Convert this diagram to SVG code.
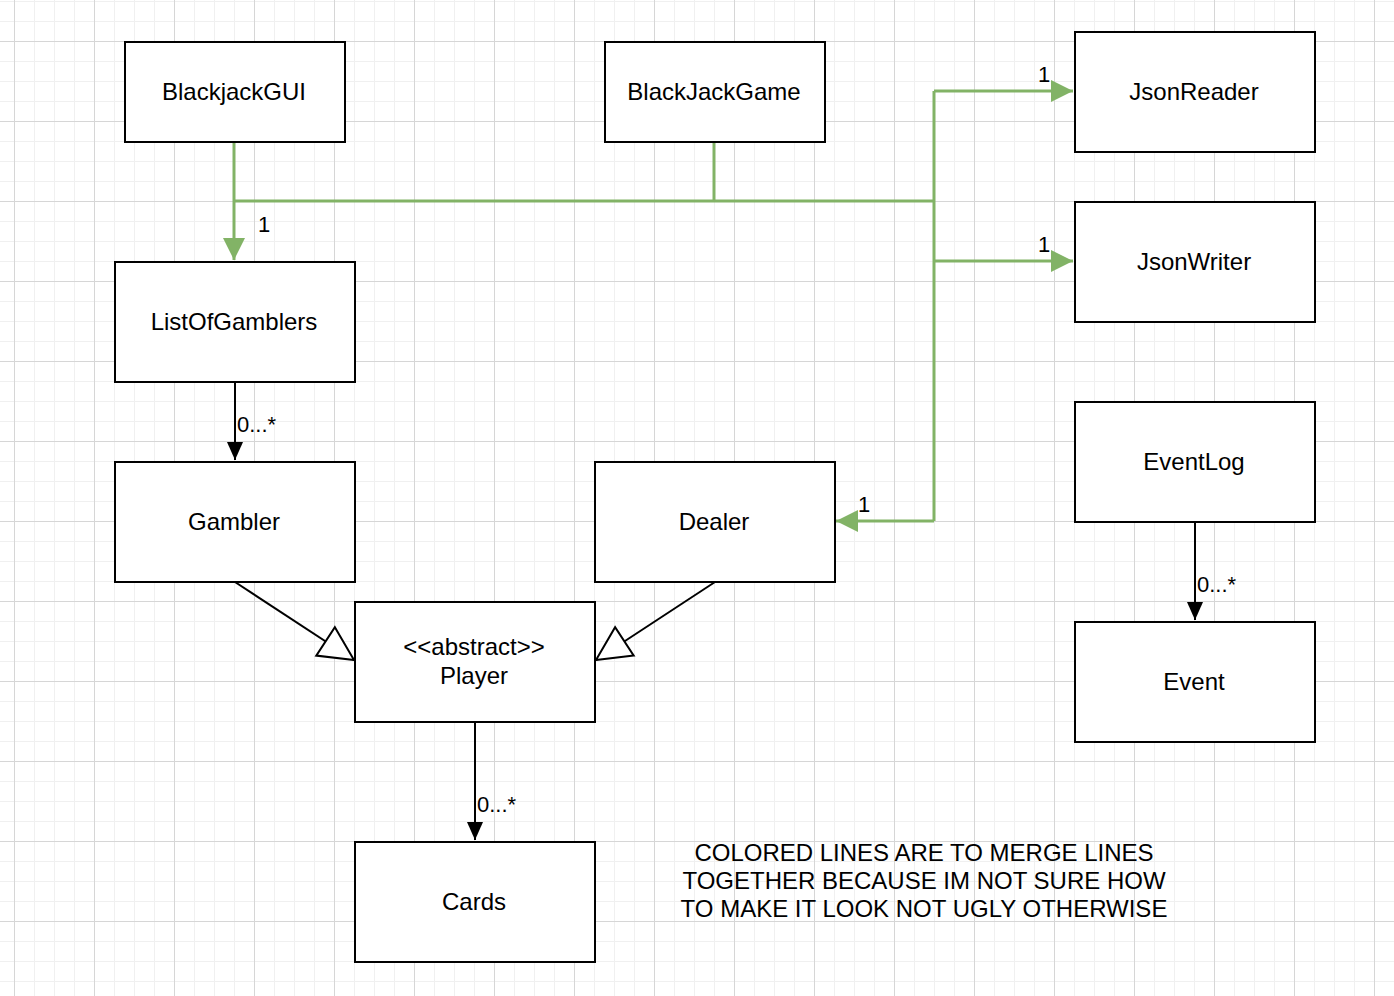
<svg xmlns="http://www.w3.org/2000/svg" width="1394" height="996" viewBox="0 0 1394 996">
  <style>
    .box { fill: #ffffff; stroke: #000000; stroke-width: 2; }
    .lbl { font-family: "Liberation Sans", Helvetica, Arial, sans-serif; font-size: 24px; fill: #000000; text-anchor: middle; }
    .elbl { font-family: "Liberation Sans", Helvetica, Arial, sans-serif; font-size: 22px; fill: #000000; }
    .green { fill: none; stroke: #82b366; stroke-width: 3; }
    .assoc { fill: none; stroke: #000000; stroke-width: 2; }
  </style>
  <defs>
    <pattern id="grid" x="14" y="41" width="80" height="80" patternUnits="userSpaceOnUse">
      <path d="M20.5 0V80M40.5 0V80M60.5 0V80M0 20.5H80M0 40.5H80M0 60.5H80" stroke="#f0f0f0" stroke-width="1" fill="none"/>
      <path d="M0.5 0V80M0 0.5H80" stroke="#d6d6d6" stroke-width="1" fill="none"/>
    </pattern>
    <marker id="greenHead" viewBox="0 0 22 22" refX="22" refY="11" markerWidth="22" markerHeight="22" markerUnits="userSpaceOnUse" orient="auto">
      <path d="M0 0L22 11L0 22Z" fill="#82b366"/>
    </marker>
    <marker id="blackHead" viewBox="0 0 18 16" refX="18" refY="8" markerWidth="18" markerHeight="16" markerUnits="userSpaceOnUse" orient="auto">
      <path d="M0 0L18 8L0 16Z" fill="#000000"/>
    </marker>
    <marker id="inherit" viewBox="-2 -2 39 38" refX="34" refY="17" markerWidth="39" markerHeight="38" markerUnits="userSpaceOnUse" orient="auto">
      <path d="M0 0L34 17L0 34Z" fill="#ffffff" stroke="#000000" stroke-width="2" stroke-linejoin="miter"/>
    </marker>
  </defs>

  <rect x="0" y="0" width="1394" height="996" fill="#ffffff"/>
  <rect x="0" y="0" width="1394" height="996" fill="url(#grid)"/>

  <!-- connectors -->
  <g id="connectors">
    <!-- merged green bus -->
    <path class="green" d="M234 142V260" marker-end="url(#greenHead)"/>
    <path class="green" d="M234 201H934"/>
    <path class="green" d="M714 142V201"/>
    <path class="green" d="M934 91V521"/>
    <path class="green" d="M934 91H1073" marker-end="url(#greenHead)"/>
    <path class="green" d="M934 261H1073" marker-end="url(#greenHead)"/>
    <path class="green" d="M934 521H836" marker-end="url(#greenHead)"/>

    <!-- associations -->
    <path class="assoc" d="M235 382V460" marker-end="url(#blackHead)"/>
    <path class="assoc" d="M475 722V840" marker-end="url(#blackHead)"/>
    <path class="assoc" d="M1195 522V620" marker-end="url(#blackHead)"/>

    <!-- generalization -->
    <path class="assoc" d="M235 582L354 660" marker-end="url(#inherit)"/>
    <path class="assoc" d="M715 582L596 660" marker-end="url(#inherit)"/>

    <!-- multiplicities -->
    <text class="elbl" x="258" y="232">1</text>
    <text class="elbl" x="1038" y="82">1</text>
    <text class="elbl" x="1038" y="252">1</text>
    <text class="elbl" x="858" y="512">1</text>
    <text class="elbl" x="237" y="432">0...*</text>
    <text class="elbl" x="477" y="812">0...*</text>
    <text class="elbl" x="1197" y="592">0...*</text>
  </g>

  <g id="BlackjackGUI">
    <rect class="box" x="125" y="42" width="220" height="100"/>
    <text class="lbl" x="234" y="99.5">BlackjackGUI</text>
  </g>
  <g id="BlackJackGame">
    <rect class="box" x="605" y="42" width="220" height="100"/>
    <text class="lbl" x="714" y="99.5">BlackJackGame</text>
  </g>
  <g id="JsonReader">
    <rect class="box" x="1075" y="32" width="240" height="120"/>
    <text class="lbl" x="1194" y="99.5">JsonReader</text>
  </g>
  <g id="JsonWriter">
    <rect class="box" x="1075" y="202" width="240" height="120"/>
    <text class="lbl" x="1194" y="269.5">JsonWriter</text>
  </g>
  <g id="ListOfGamblers">
    <rect class="box" x="115" y="262" width="240" height="120"/>
    <text class="lbl" x="234" y="329.5">ListOfGamblers</text>
  </g>
  <g id="Gambler">
    <rect class="box" x="115" y="462" width="240" height="120"/>
    <text class="lbl" x="234" y="529.5">Gambler</text>
  </g>
  <g id="Dealer">
    <rect class="box" x="595" y="462" width="240" height="120"/>
    <text class="lbl" x="714" y="529.5">Dealer</text>
  </g>
  <g id="EventLog">
    <rect class="box" x="1075" y="402" width="240" height="120"/>
    <text class="lbl" x="1194" y="469.5">EventLog</text>
  </g>
  <g id="Event">
    <rect class="box" x="1075" y="622" width="240" height="120"/>
    <text class="lbl" x="1194" y="689.5">Event</text>
  </g>
  <g id="Player">
    <rect class="box" x="355" y="602" width="240" height="120"/>
    <text class="lbl" x="474" y="655">&lt;&lt;abstract&gt;&gt;</text>
    <text class="lbl" x="474" y="684">Player</text>
  </g>
  <g id="Cards">
    <rect class="box" x="355" y="842" width="240" height="120"/>
    <text class="lbl" x="474" y="909.5">Cards</text>
  </g>

  <g id="note">
    <text class="lbl" x="924" y="860.5">COLORED LINES ARE TO MERGE LINES</text>
    <text class="lbl" x="924" y="888.5">TOGETHER BECAUSE IM NOT SURE HOW</text>
    <text class="lbl" x="924" y="916.5">TO MAKE IT LOOK NOT UGLY OTHERWISE</text>
  </g>
</svg>
